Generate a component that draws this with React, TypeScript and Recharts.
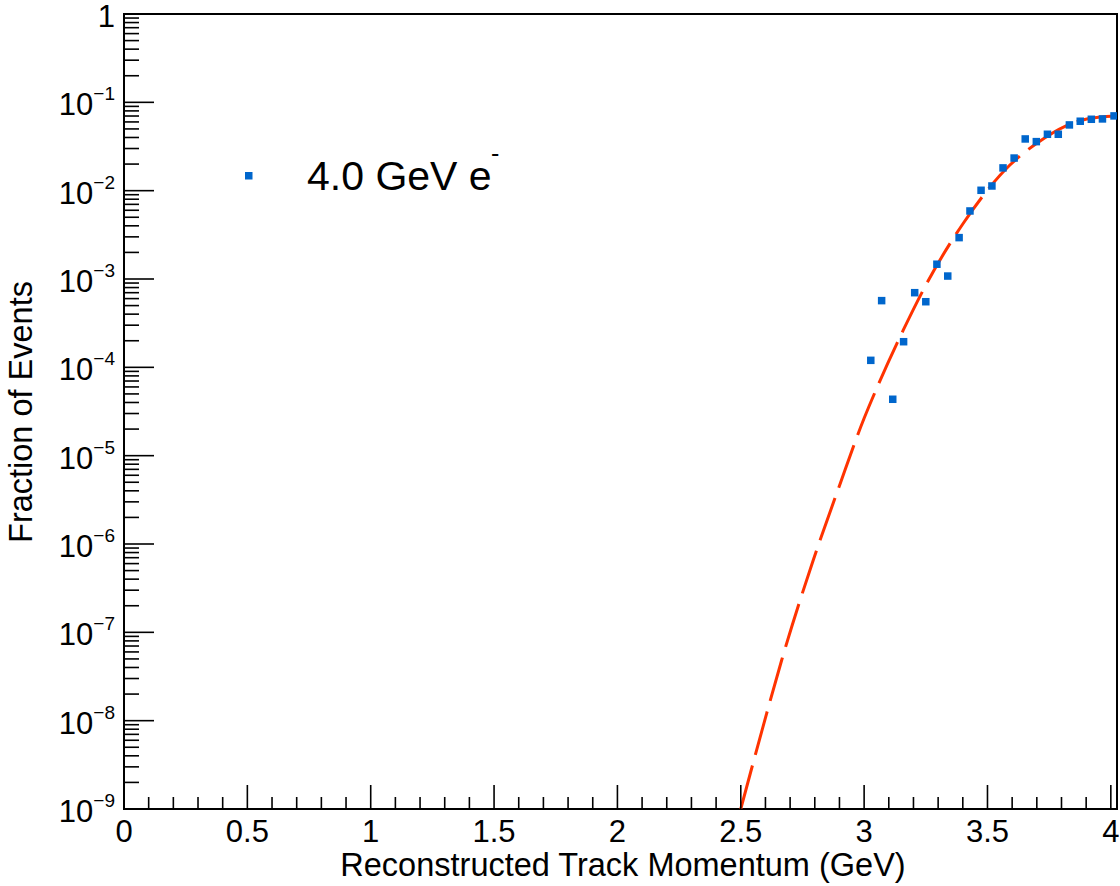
import React from 'react';
import {
  ComposedChart,
  Line,
  Scatter,
  XAxis,
  YAxis,
  ReferenceArea,
  Legend,
  Label,
} from 'recharts';

// measured bin centres (GeV) and fraction of events per bin
const momentum = [
  3.027, 3.071, 3.116, 3.16, 3.205, 3.25, 3.295, 3.339, 3.385, 3.429, 3.474, 3.518,
  3.563, 3.608, 3.653, 3.698, 3.743, 3.787, 3.832, 3.876, 3.921, 3.966, 4.013,
];
const fraction = [
  1.2e-4, 5.69e-4, 4.35e-5, 1.95e-4, 7.0e-4, 5.53e-4, 1.47e-3, 1.08e-3, 2.94e-3, 5.89e-3,
  1.01e-2, 1.13e-2, 1.81e-2, 2.34e-2, 3.85e-2, 3.59e-2, 4.35e-2, 4.35e-2, 5.55e-2, 6.11e-2,
  6.43e-2, 6.49e-2, 7.02e-2,
];

// fitted curve, sampled along the dashed line
const fitMomentum = [
  2.5, 2.605, 2.666, 2.794, 2.9, 3.0, 3.051, 3.159, 3.254, 3.402, 3.591, 3.7, 3.875, 3.95, 4.025,
];
const fitFraction = [
  1.0e-9, 1.21e-8, 4.86e-8, 6.59e-7, 4.57e-6, 2.65e-5, 5.79e-5, 2.65e-4, 8.93e-4, 4.28e-3,
  1.95e-2, 3.44e-2, 6.21e-2, 6.79e-2, 7.02e-2,
];

const xMajorTicks = [0, 0.5, 1, 1.5, 2, 2.5, 3, 3.5, 4];
const xMajorLabels = ['0', '0.5', '1', '1.5', '2', '2.5', '3', '3.5', '4'];
const yDecades = [-9, -8, -7, -6, -5, -4, -3, -2, -1, 0];

const FONT = "'Liberation Sans', Arial, Helvetica, sans-serif";
const X_MAX = 4.025;

// every 0.1 GeV a tick, majors every 0.5
const xTicks: number[] = [];
for (let i = 0; i <= 40; i++) xTicks.push(i / 10);

// decades plus 2..9 subdivisions
const yTicks: number[] = [];
yDecades.forEach((d) => {
  yTicks.push(Math.pow(10, d));
  if (d < 0) for (let k = 2; k <= 9; k++) yTicks.push(k * Math.pow(10, d));
});

const scatterData = momentum.map((x, i) => ({ x, y: fraction[i] }));
const fitData = fitMomentum.map((x, i) => ({ x, y: fitFraction[i] }));

const XTick = (props: any) => {
  const { x, y, payload } = props;
  const v = payload.value as number;
  const idx = xMajorTicks.findIndex((m) => Math.abs(m - v) < 1e-6);
  const major = idx >= 0;
  return (
    <g>
      <line x1={x} x2={x} y1={y} y2={y - (major ? 24 : 12)} stroke="#000" strokeWidth={1.6} />
      {major && (
        <text x={x} y={y + 33} textAnchor="middle" fontSize={31} fontFamily={FONT} fill="#000">
          {xMajorLabels[idx]}
        </text>
      )}
    </g>
  );
};

const YTick = (props: any) => {
  const { x, y, payload } = props;
  const v = payload.value as number;
  const lg = Math.log10(v);
  const major = Math.abs(lg - Math.round(lg)) < 1e-6;
  const d = Math.round(lg);
  return (
    <g>
      <line x1={x} x2={x + (major ? 30 : 15)} y1={y} y2={y} stroke="#000" strokeWidth={1.6} />
      {major && (
        <text x={x - 9} y={y + 13} textAnchor="end" fontSize={31} fontFamily={FONT} fill="#000">
          {d === 0 ? (
            '1'
          ) : (
            <>
              <tspan>10</tspan>
              <tspan fontSize={19} dy={-15}>
                {'\u2212' + Math.abs(d)}
              </tspan>
            </>
          )}
        </text>
      )}
    </g>
  );
};

const Square = (props: any) => {
  const { cx, cy } = props;
  return <rect x={cx - 3.75} y={cy - 3.75} width={7.5} height={7.5} fill="#0066cc" />;
};

const LegendBox = () => (
  <svg width={320} height={70} style={{ display: 'block', overflow: 'visible' }}>
    <rect x={25} y={32} width={7.5} height={7.5} fill="#0066cc" />
    <text x={87} y={50} fontSize={41} fontFamily={FONT} fill="#000">
      4.0 GeV e
    </text>
    <text x={271} y={22} fontSize={25} fontFamily={FONT} fill="#000">
      -
    </text>
  </svg>
);

export default function App() {
  return (
    <div style={{ position: 'absolute', left: 0, top: 0, background: '#fff' }}>
      <ComposedChart
        width={1120}
        height={886}
        margin={{ top: 14, right: 3, left: 0, bottom: 0 }}
      >
        <XAxis
          dataKey="x"
          type="number"
          domain={[0, X_MAX]}
          ticks={xTicks}
          interval={0}
          height={77}
          tickSize={0}
          tickMargin={0}
          axisLine={false}
          tickLine={false}
          tick={<XTick />}
          allowDataOverflow
        >
          <Label
            content={() => (
              <text x={623} y={876} textAnchor="middle" fontSize={32.5} fontFamily={FONT} fill="#000">
                Reconstructed Track Momentum (GeV)
              </text>
            )}
          />
        </XAxis>
        <YAxis
          dataKey="y"
          type="number"
          scale="log"
          domain={[1e-9, 1]}
          ticks={yTicks}
          interval={0}
          width={124}
          tickSize={0}
          tickMargin={0}
          axisLine={false}
          tickLine={false}
          tick={<YTick />}
          allowDataOverflow
        >
          <Label
            content={() => (
              <text
                x={32}
                y={412}
                transform="rotate(-90 32 412)"
                textAnchor="middle"
                fontSize={32.5}
                fontFamily={FONT}
                fill="#000"
              >
                Fraction of Events
              </text>
            )}
          />
        </YAxis>
        <Legend
          layout="vertical"
          align="center"
          verticalAlign="middle"
          wrapperStyle={{ left: 220, top: 140, width: 320, height: 70 }}
          content={() => <LegendBox />}
        />
        <Line
          data={fitData}
          dataKey="y"
          type="monotone"
          stroke="#ff3300"
          strokeWidth={3}
          strokeDasharray="45 11"
          dot={false}
          activeDot={false}
          isAnimationActive={false}
        />
        <Scatter data={scatterData} dataKey="y" shape={<Square />} isAnimationActive={false} />
        <ReferenceArea
          x1={0}
          x2={X_MAX}
          y1={1e-9}
          y2={1}
          fill="none"
          fillOpacity={0}
          stroke="#000"
          strokeWidth={2}
        />
      </ComposedChart>
    </div>
  );
}
